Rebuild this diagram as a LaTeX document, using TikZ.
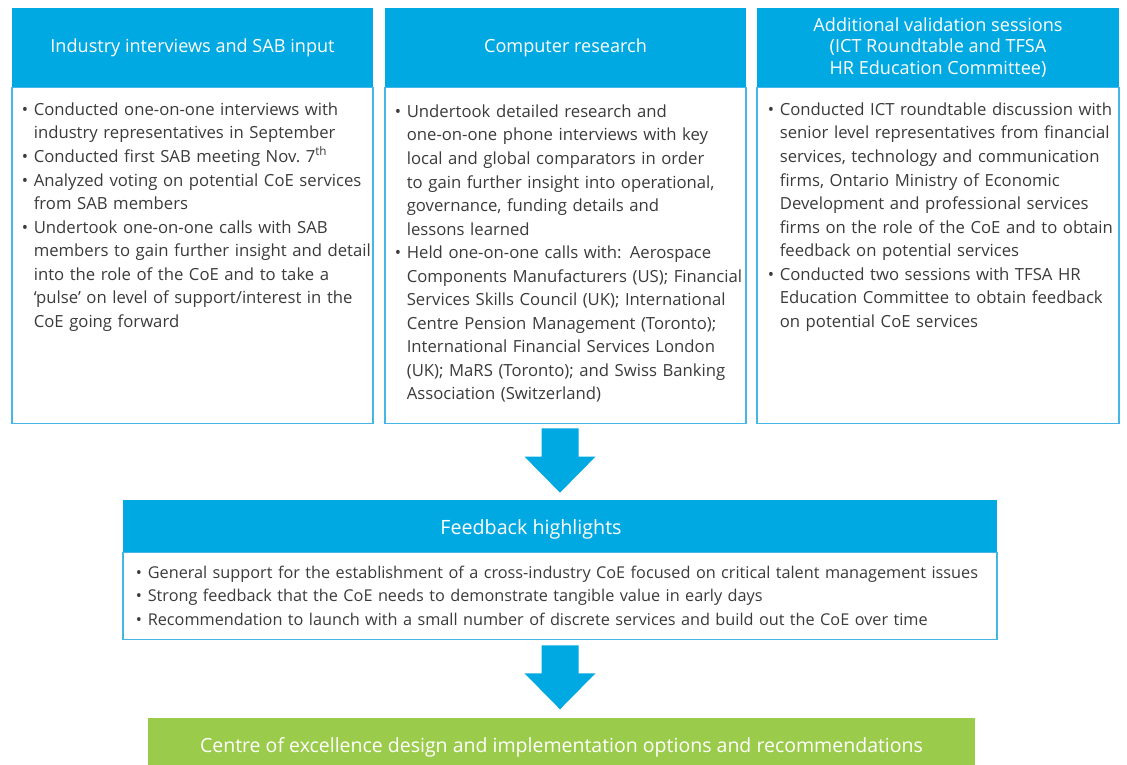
\documentclass[tikz,border=0pt]{standalone}
\usepackage{fontspec}
\setmainfont{Open Sans}
\usetikzlibrary{positioning, calc}

\definecolor{flowblue}{HTML}{00A9E2}
\definecolor{edgeblue}{HTML}{45B6E6}
\definecolor{flowgreen}{HTML}{9BCB4B}
\definecolor{bodygray}{HTML}{3B3B3B}

% bullet line with hanging indent
\newcommand{\bitem}[1]{\hangindent=0.24cm\hangafter=1\noindent\makebox[0.24cm][l]{\textbullet}#1\par}

% block arrow from top of shaft (#1) down to tip (#2)
\newcommand{\flowarrow}[2]{%
  \fill[blockarrow] ($(#1)+(-0.37,0)$) -- ($(#1)+(0.37,0)$) -- ($(#2)+(0.37,0.72)$)
    -- ($(#2)+(0.71,0.72)$) -- (#2) -- ($(#2)+(-0.71,0.72)$) -- ($(#2)+(-0.37,0.72)$) -- cycle;}

\tikzset{
  headbox/.style={fill=flowblue, text=white, align=center, inner sep=0pt,
    minimum width=7.22cm, minimum height=1.58cm, font=\fontsize{10.3}{12.2}\selectfont},
  bodybox/.style={draw=edgeblue, line width=0.6pt, fill=white, inner sep=0pt,
    minimum width=7.22cm, minimum height=6.72cm},
  bodytext/.style={text=bodygray, text width=7.3cm, align=left, anchor=north west,
    inner sep=0pt, font=\fontsize{9.5}{13.4}\selectfont},
  blockarrow/.style={fill=flowblue}
}

\begin{document}
\begin{tikzpicture}
\useasboundingbox (0,0) rectangle (22.54,15.3);

% --- Top row: three input columns ---
\node[headbox] (head1) at (3.85,14.35) {Industry interviews and SAB input};
\node[bodybox, below=0pt of head1] (body1) {};
\node[bodytext] (txt1) at ([xshift=0.2cm, yshift=-0.30cm]body1.north west) {%
  \bitem{Conducted one-on-one interviews with\newline industry representatives in September}
  \bitem{Conducted first SAB meeting Nov.~7\textsuperscript{th}}
  \bitem{Analyzed voting on potential CoE services\newline from SAB members}
  \bitem{Undertook one-on-one calls with SAB\newline members to gain further insight and detail\newline
    into the role of the CoE and to take a\newline ‘pulse’ on level of support/interest in the\newline
    CoE going forward}};

\node[headbox] (head2) at (11.31,14.35) {Computer research};
\node[bodybox, below=0pt of head2] (body2) {};
\node[bodytext] (txt2) at ([xshift=0.2cm, yshift=-0.34cm]body2.north west) {%
  \bitem{Undertook detailed research and\newline one-on-one phone interviews with key\newline
    local and global comparators in order\newline to gain further insight into operational,\newline
    governance, funding details and\newline lessons learned}
  \bitem{Held one-on-one calls with: Aerospace\newline Components Manufacturers (US); Financial\newline
    Services Skills Council (UK); International\newline Centre Pension Management (Toronto);\newline
    International Financial Services London\newline (UK); MaRS (Toronto); and Swiss Banking\newline
    Association (Switzerland)}};

\node[headbox, minimum width=7.24cm] (head3) at (18.76,14.35)
  {Additional validation sessions\\(ICT Roundtable and TFSA\\HR Education Committee)};
\node[bodybox, minimum width=7.24cm, below=0pt of head3] (body3) {};
\node[bodytext] (txt3) at ([xshift=0.22cm, yshift=-0.30cm]body3.north west) {%
  \bitem{Conducted ICT roundtable discussion with\newline senior level representatives from financial\newline
    services, technology and communication\newline firms, Ontario Ministry of Economic\newline
    Development and professional services\newline firms on the role of the CoE and to obtain\newline
    feedback on potential services}
  \bitem{Conducted two sessions with TFSA HR\newline Education Committee to obtain feedback\newline
    on potential CoE services}};

% --- Feedback box ---
\node[headbox, minimum width=17.48cm, minimum height=1.04cm] (fbhead) at (11.20,4.78) {};
\node[text=white, font=\fontsize{11.2}{13}\selectfont] (fbtitle) at ([xshift=-0.58cm, yshift=-0.06cm]fbhead.center) {Feedback highlights};
\node[bodybox, minimum width=17.48cm, minimum height=1.74cm, below=0pt of fbhead] (fbbody) {};
\node[bodytext, text width=17.2cm, font=\fontsize{9.25}{13.4}\selectfont] (fbtxt) at ([xshift=0.26cm, yshift=-0.26cm]fbbody.north west) {%
  \bitem{General support for the establishment of a cross-industry CoE focused on critical talent management issues}
  \bitem{Strong feedback that the CoE needs to demonstrate tangible value in early days}
  \bitem{Recommendation to launch with a small number of discrete services and build out the CoE over time}};

% --- Outcome ---
\node[headbox, fill=flowgreen, minimum width=16.54cm, minimum height=0.94cm, anchor=south] (result) at (11.23,0) {};
\node[text=white, font=\fontsize{11.1}{13}\selectfont] (restitle) at ([yshift=-0.12cm]result.center)
  {Centre of excellence design and implementation options and recommendations};

% --- Arrows ---
\path ([yshift=-0.08cm]fbhead.north |- body2.south) coordinate (a1top);
\path ([yshift=0.14cm]fbhead.north) coordinate (a1tip);
\flowarrow{a1top}{a1tip}
\path ([yshift=-0.10cm]fbbody.south) coordinate (a2top);
\path ([yshift=0.16cm]fbhead.north |- result.north) coordinate (a2tip);
\flowarrow{a2top}{a2tip}

\end{tikzpicture}
\end{document}
